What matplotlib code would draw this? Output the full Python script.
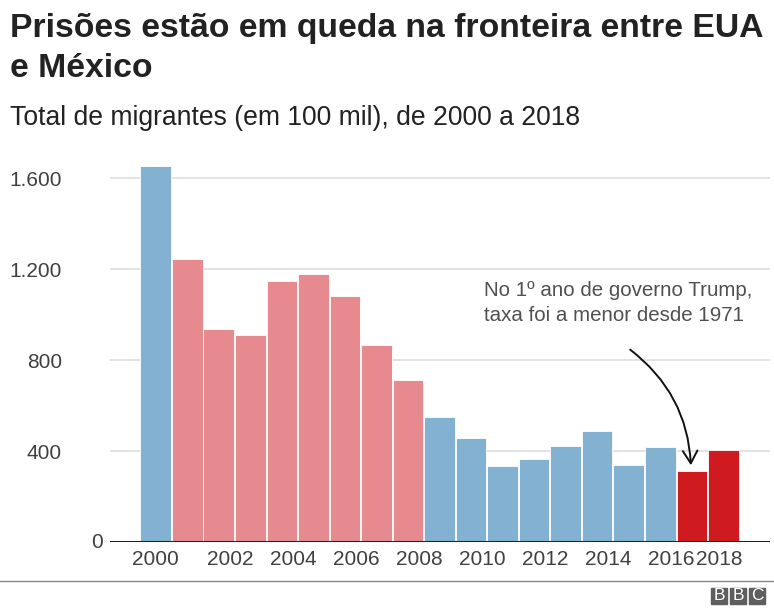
import matplotlib
matplotlib.use("Agg")
import matplotlib.pyplot as plt
from matplotlib.patches import FancyArrowPatch, Rectangle
from matplotlib.transforms import blended_transform_factory

# ---- data ----
years = list(range(2000, 2019))
values = [1653, 1244, 936, 910, 1147, 1178, 1081, 866, 712, 549,
          457, 334, 365, 422, 488, 338, 418, 312, 404]
groups = ["b", "p", "p", "p", "p", "p", "p", "p", "p", "b",
          "b", "b", "b", "b", "b", "b", "b", "r", "r"]
ytick_vals = [400, 800, 1200, 1600]
ytick_labels = ["400", "800", "1.200", "1.600"]
xtick_years = [2000, 2002, 2004, 2006, 2008, 2010, 2012, 2014, 2016, 2018]
title_lines = ["Prisões estão em queda na fronteira entre EUA", "e México"]
subtitle = "Total de migrantes (em 100 mil), de 2000 a 2018"
note_lines = ["No 1º ano de governo Trump,", "taxa foi a menor desde 1971"]

colors = {"b": "#82b1d1", "p": "#e68a8f", "r": "#cf1a20"}

W, H = 774, 611
plt.rcParams['font.family'] = ['Liberation Sans', 'DejaVu Sans']
fig = plt.figure(figsize=(W / 100, H / 100), dpi=100)

def fx(px):
    return px / W

def fy(py):
    return 1 - py / H

ax = fig.add_axes([fx(110), fy(542), fx(770) - fx(110), fy(158) - fy(542)])

ax.bar(years, values, width=0.97, color=[colors[g] for g in groups],
       edgecolor="white", linewidth=0.6, zorder=3)

ax.set_xlim(1998.55, 2019.48)
ax.set_ylim(0, 1690)

for s in ["top", "right", "left", "bottom"]:
    ax.spines[s].set_visible(False)
ax.axhline(0, color="#222222", linewidth=2.2, zorder=4)

ax.set_yticks(ytick_vals)
ax.set_yticklabels(ytick_labels)
ax.yaxis.grid(True, color="#dddddd", linewidth=1.2, zorder=0)
ax.tick_params(axis="y", length=0, pad=34.5, labelsize=15, labelcolor="#404040")

# x tick labels (BBC layout: mid labels slightly shifted right)
xpos = []
for y in xtick_years:
    if y == 2000:
        xpos.append(y)
    elif y == 2018:
        xpos.append(y - 0.13)
    else:
        xpos.append(y + 0.35)
ax.set_xticks(xpos)
ax.set_xticklabels([str(y) for y in xtick_years])
ax.tick_params(axis="x", length=0, pad=6, labelsize=15, labelcolor="#404040")

# zero label next to baseline
trans = blended_transform_factory(fig.transFigure, ax.transData)
fig.text(fx(103), 0, "0", transform=trans, ha="right", va="center",
         fontsize=15, color="#404040")

# annotation
fig.text(fx(484), fy(296), note_lines[0], ha="left", va="baseline",
         fontsize=14.8, color="#505050")
fig.text(fx(484), fy(321), note_lines[1], ha="left", va="baseline",
         fontsize=14.8, color="#505050")
arrow = FancyArrowPatch((fx(628), fy(348)), (fx(691), fy(468)),
                        transform=fig.transFigure,
                        connectionstyle="arc3,rad=-0.24",
                        arrowstyle="->,head_length=6,head_width=3.5",
                        color="#111111", linewidth=1.4, mutation_scale=1.5)
fig.patches.append(arrow)

# titles
fig.text(fx(10), fy(37), title_lines[0],
         ha="left", va="baseline", fontsize=24.3, fontweight="bold", color="#222222")
fig.text(fx(10), fy(77), title_lines[1],
         ha="left", va="baseline", fontsize=24.3, fontweight="bold", color="#222222")
fig.text(fx(10), fy(125), subtitle, ha="left", va="baseline", fontsize=19.1,
         color="#222222")

# footer line
fig.add_artist(plt.Line2D([0, 1], [fy(581), fy(581)], transform=fig.transFigure,
                          color="#888888", linewidth=1))

# BBC logo
for i, letter in enumerate("BBC"):
    x0 = 711 + i * 19
    fig.add_artist(Rectangle((fx(x0), fy(604)), fx(16), 16 / H,
                             transform=fig.transFigure, color="#5e5e5e"))
    fig.text(fx(x0 + 8), fy(596), letter, ha="center", va="center",
             fontsize=12.5, color="white")

fig.savefig("out.png", dpi=100)
